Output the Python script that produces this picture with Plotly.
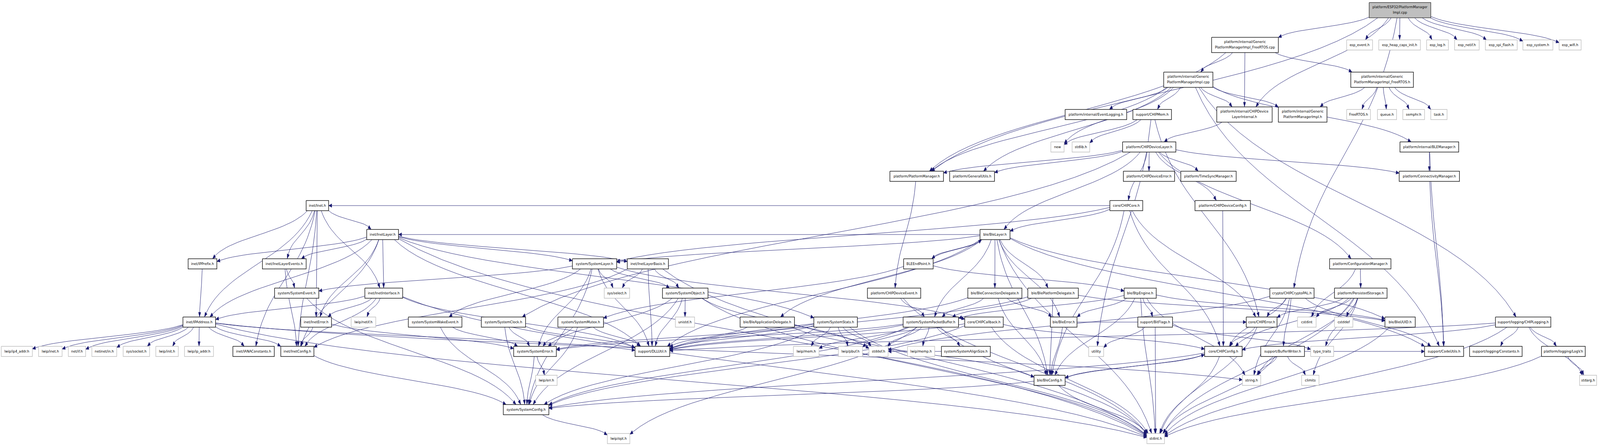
import plotly.graph_objects as go

# ---------------- graph data ----------------
ROOT = "platform/ESP32/PlatformManagerImpl.cpp"
GFC = "platform/internal/GenericPlatformManagerImpl_FreeRTOS.cpp"
GFH = "platform/internal/GenericPlatformManagerImpl_FreeRTOS.h"
GPC = "platform/internal/GenericPlatformManagerImpl.cpp"
GPH = "platform/internal/GenericPlatformManagerImpl.h"
DLI = "platform/internal/CHIPDeviceLayerInternal.h"

# doxygen wraps the long names onto two lines
wrapped = {
    ROOT: ["platform/ESP32/PlatformManager", "Impl.cpp"],
    GFC: ["platform/internal/Generic", "PlatformManagerImpl_FreeRTOS.cpp"],
    GFH: ["platform/internal/Generic", "PlatformManagerImpl_FreeRTOS.h"],
    GPC: ["platform/internal/Generic", "PlatformManagerImpl.cpp"],
    GPH: ["platform/internal/Generic", "PlatformManagerImpl.h"],
    DLI: ["platform/internal/CHIPDevice", "LayerInternal.h"],
}

# headers that are not part of the project (grey frame)
external = [
    "esp_event.h", "esp_heap_caps_init.h", "esp_log.h", "esp_netif.h", "esp_spi_flash.h",
    "esp_system.h", "esp_wifi.h", "FreeRTOS.h", "queue.h", "semphr.h", "task.h", "new",
    "stdlib.h", "lwip/ip4_addr.h", "lwip/inet.h", "net/if.h", "netinet/in.h", "sys/socket.h",
    "lwip/init.h", "lwip/ip_addr.h", "lwip/netif.h", "sys/select.h", "unistd.h", "lwip/mem.h",
    "lwip/pbuf.h", "stddef.h", "lwip/memp.h", "cstdint", "cstddef", "utility", "type_traits",
    "lwip/err.h", "string.h", "climits", "stdarg.h", "lwip/opt.h", "stdint.h",
]

includes = {
    ROOT: ["platform/PlatformManager.h", GFC, DLI, "crypto/CHIPCryptoPAL.h", "esp_event.h",
           "esp_heap_caps_init.h", "esp_log.h", "esp_netif.h", "esp_spi_flash.h", "esp_system.h",
           "esp_wifi.h"],
    GFC: [GPC, DLI, GFH, "platform/PlatformManager.h"],
    GFH: [GPH, "FreeRTOS.h", "queue.h", "semphr.h", "task.h"],
    GPC: ["platform/PlatformManager.h", "platform/GeneralUtils.h", "new",
          "platform/internal/EventLogging.h", "support/CHIPMem.h", DLI, GPH,
          "platform/internal/BLEManager.h", "support/CodeUtils.h", "support/logging/CHIPLogging.h"],
    DLI: ["platform/CHIPDeviceLayer.h"],
    "support/CHIPMem.h": ["new", "stdlib.h", "utility", "core/CHIPError.h"],
    "platform/CHIPDeviceLayer.h": ["core/CHIPCore.h", "platform/PlatformManager.h",
                                   "platform/GeneralUtils.h", "platform/CHIPDeviceError.h",
                                   "platform/TimeSyncManager.h", "platform/ConnectivityManager.h",
                                   "platform/CHIPDeviceConfig.h", "platform/ConfigurationManager.h",
                                   "ble/BleLayer.h", "system/SystemClock.h"],
    "platform/internal/BLEManager.h": ["platform/ConnectivityManager.h", "support/CodeUtils.h"],
    "platform/ConnectivityManager.h": ["support/CodeUtils.h"],
    "platform/PlatformManager.h": ["platform/CHIPDeviceEvent.h"],
    "platform/CHIPDeviceConfig.h": ["core/CHIPConfig.h"],
    "platform/ConfigurationManager.h": ["platform/PersistedStorage.h", "cstdint"],
    "core/CHIPCore.h": ["inet/Inet.h", "system/SystemLayer.h", "ble/BleLayer.h", "core/CHIPConfig.h",
                        "core/CHIPError.h", "ble/BleConfig.h"],
    "inet/Inet.h": ["inet/IPAddress.h", "inet/IPPrefix.h", "inet/IANAConstants.h",
                    "inet/InetLayerEvents.h", "inet/InetError.h", "inet/InetInterface.h",
                    "inet/InetLayer.h", "inet/InetConfig.h"],
    "inet/InetLayer.h": ["inet/IPPrefix.h", "inet/IPAddress.h", "inet/InetLayerEvents.h",
                         "inet/InetConfig.h", "inet/InetError.h", "inet/InetInterface.h",
                         "system/SystemLayer.h", "inet/InetLayerBasis.h", "system/SystemStats.h",
                         "support/DLLUtil.h", "stdint.h"],
    "inet/IPPrefix.h": ["inet/IPAddress.h"],
    "inet/IPAddress.h": ["lwip/ip4_addr.h", "lwip/inet.h", "net/if.h", "netinet/in.h",
                         "sys/socket.h", "lwip/init.h", "lwip/ip_addr.h", "inet/IANAConstants.h",
                         "inet/InetConfig.h", "support/DLLUtil.h", "string.h", "stdint.h"],
    "inet/InetLayerEvents.h": ["system/SystemEvent.h", "inet/InetConfig.h"],
    "system/SystemEvent.h": ["system/SystemConfig.h"],
    "inet/InetInterface.h": ["inet/IPAddress.h", "inet/InetError.h", "inet/InetConfig.h",
                             "lwip/netif.h", "support/DLLUtil.h", "stdint.h"],
    "inet/InetError.h": ["inet/InetConfig.h", "system/SystemError.h"],
    "inet/InetConfig.h": ["system/SystemConfig.h"],
    "system/SystemLayer.h": ["system/SystemEvent.h", "system/SystemWakeEvent.h",
                             "system/SystemConfig.h", "system/SystemError.h", "sys/select.h",
                             "system/SystemObject.h", "support/DLLUtil.h", "core/CHIPCallback.h"],
    "inet/InetLayerBasis.h": ["sys/select.h", "support/DLLUtil.h", "system/SystemObject.h",
                              "inet/InetConfig.h", "stdint.h"],
    "system/SystemObject.h": ["support/DLLUtil.h", "unistd.h", "system/SystemError.h",
                              "system/SystemConfig.h", "stddef.h", "stdint.h"],
    "system/SystemWakeEvent.h": ["system/SystemConfig.h", "system/SystemError.h"],
    "system/SystemClock.h": ["system/SystemError.h", "system/SystemConfig.h", "support/DLLUtil.h"],
    "system/SystemMutex.h": ["system/SystemError.h", "system/SystemConfig.h", "support/DLLUtil.h"],
    "system/SystemError.h": ["system/SystemConfig.h", "lwip/err.h"],
    "system/SystemConfig.h": ["lwip/opt.h"],
    "ble/BleApplicationDelegate.h": ["support/DLLUtil.h", "ble/BleConfig.h"],
    "system/SystemStats.h": ["lwip/mem.h", "lwip/pbuf.h", "system/SystemConfig.h",
                             "system/SystemError.h", "support/DLLUtil.h", "stddef.h", "stdint.h"],
    "system/SystemPacketBuffer.h": ["lwip/mem.h", "lwip/pbuf.h", "stddef.h", "lwip/memp.h",
                                    "system/SystemAlignSize.h", "system/SystemConfig.h",
                                    "system/SystemError.h", "support/DLLUtil.h", "lwip/opt.h",
                                    "stdint.h"],
    "platform/CHIPDeviceEvent.h": ["system/SystemPacketBuffer.h", "stdint.h"],
    "BLEEndPoint.h": ["ble/BleLayer.h", "system/SystemMutex.h", "ble/BtpEngine.h"],
    "ble/BleLayer.h": ["inet/InetLayer.h", "system/SystemLayer.h", "system/SystemPacketBuffer.h",
                       "support/DLLUtil.h", "BLEEndPoint.h", "ble/BleApplicationDelegate.h",
                       "ble/BleConnectionDelegate.h", "ble/BlePlatformDelegate.h", "ble/BleError.h",
                       "ble/BleUUID.h", "support/CodeUtils.h", "ble/BleConfig.h", "stdint.h"],
    "ble/BleConnectionDelegate.h": ["support/DLLUtil.h", "system/SystemPacketBuffer.h",
                                    "ble/BleConfig.h", "ble/BleError.h"],
    "ble/BlePlatformDelegate.h": ["support/DLLUtil.h", "system/SystemPacketBuffer.h",
                                  "ble/BleConfig.h", "ble/BleUUID.h"],
    "ble/BtpEngine.h": ["system/SystemPacketBuffer.h", "ble/BleError.h", "ble/BleConfig.h",
                        "support/BitFlags.h", "ble/BleUUID.h", "string.h", "stdint.h"],
    "crypto/CHIPCryptoPAL.h": ["core/CHIPError.h", "support/CodeUtils.h", "string.h",
                               "core/CHIPConfig.h", "support/BufferWriter.h", "stddef.h"],
    "platform/PersistedStorage.h": ["core/CHIPError.h", "cstdint", "cstddef", "core/CHIPConfig.h",
                                    "type_traits", "climits", "string.h", "stdint.h"],
    "core/CHIPCallback.h": ["stdint.h", "core/CHIPConfig.h", "support/DLLUtil.h",
                            "system/SystemConfig.h"],
    "ble/BleError.h": ["ble/BleConfig.h", "core/CHIPError.h"],
    "support/BitFlags.h": ["utility", "stdint.h", "type_traits"],
    "core/CHIPError.h": ["core/CHIPConfig.h", "stdint.h"],
    "ble/BleUUID.h": ["stdint.h"],
    "support/logging/CHIPLogging.h": ["core/CHIPConfig.h", "support/logging/Constants.h",
                                      "platform/logging/LogV.h", "stdarg.h", "stdint.h",
                                      "support/DLLUtil.h"],
    "platform/logging/LogV.h": ["stdarg.h", "stdint.h"],
    "core/CHIPConfig.h": ["ble/BleConfig.h", "system/SystemConfig.h", "stdint.h"],
    "ble/BleConfig.h": ["core/CHIPConfig.h", "stdint.h", "system/SystemConfig.h"],
    "support/BufferWriter.h": ["string.h", "climits", "stdint.h", "support/CodeUtils.h"],
    "system/SystemAlignSize.h": ["stddef.h"],
}

# ---------------- layout (dot ranks, boxes in picture pixels) ----------------
rank_y = [26, 115, 204, 293, 376, 451, 526, 600, 675, 750, 824, 899, 973, 1048, 1122]

boxes = {
    ROOT: (5291, 5529, 0),
    GFC: (4682, 4940, 1), "esp_event.h": (5204, 5304, 1), "esp_heap_caps_init.h": (5328, 5489, 1),
    "esp_log.h": (5513, 5597, 1), "esp_netif.h": (5621, 5716, 1), "esp_spi_flash.h": (5740, 5863, 1),
    "esp_system.h": (5885, 6001, 1), "esp_wifi.h": (6025, 6110, 1),
    GPC: (4497, 4687, 2), GFH: (5220, 5462, 2),
    "platform/internal/EventLogging.h": (4116, 4354, 3), "support/CHIPMem.h": (4378, 4527, 3),
    DLI: (4702, 4916, 3), GPH: (4940, 5128, 3), "FreeRTOS.h": (5204, 5296, 3),
    "queue.h": (5323, 5397, 3), "semphr.h": (5421, 5505, 3), "task.h": (5529, 5592, 3),
    "new": (4061, 4112, 4), "stdlib.h": (4143, 4211, 4), "platform/CHIPDeviceLayer.h": (4338, 4544, 4),
    "platform/internal/BLEManager.h": (5410, 5637, 4),
    "platform/PlatformManager.h": (3439, 3646, 5), "platform/GeneralUtils.h": (3670, 3843, 5),
    "platform/CHIPDeviceError.h": (4341, 4539, 5), "platform/TimeSyncManager.h": (4563, 4777, 5),
    "platform/ConnectivityManager.h": (5407, 5640, 5),
    "inet/Inet.h": (1183, 1270, 6), "core/CHIPCore.h": (4289, 4416, 6),
    "platform/CHIPDeviceConfig.h": (4618, 4832, 6),
    "inet/InetLayer.h": (1417, 1540, 7), "ble/BleLayer.h": (3787, 3903, 7),
    "inet/IPPrefix.h": (727, 838, 8), "inet/InetLayerEvents.h": (1014, 1183, 8),
    "system/SystemLayer.h": (2212, 2383, 8), "inet/InetLayerBasis.h": (2424, 2583, 8),
    "BLEEndPoint.h": (3492, 3606, 8), "platform/ConfigurationManager.h": (5138, 5375, 8),
    "system/SystemEvent.h": (1061, 1232, 9), "inet/InetInterface.h": (1410, 1556, 9),
    "sys/select.h": (2335, 2433, 9), "system/SystemObject.h": (2560, 2736, 9),
    "platform/CHIPDeviceEvent.h": (3352, 3558, 9), "ble/BleConnectionDelegate.h": (3740, 3949, 9),
    "ble/BlePlatformDelegate.h": (3972, 4167, 9), "ble/BtpEngine.h": (4344, 4468, 9),
    "crypto/CHIPCryptoPAL.h": (4907, 5078, 9), "platform/PersistedStorage.h": (5157, 5360, 9),
    "inet/IPAddress.h": (707, 833, 10), "inet/InetError.h": (1162, 1281, 10),
    "lwip/netif.h": (1357, 1452, 10), "system/SystemWakeEvent.h": (1578, 1785, 10),
    "system/SystemClock.h": (1860, 2031, 10), "system/SystemMutex.h": (2156, 2332, 10),
    "unistd.h": (2610, 2684, 10), "ble/BleApplicationDelegate.h": (2860, 3070, 10),
    "system/SystemStats.h": (3145, 3313, 10), "system/SystemPacketBuffer.h": (3490, 3704, 10),
    "core/CHIPCallback.h": (3728, 3877, 10), "ble/BleError.h": (4059, 4162, 10),
    "support/BitFlags.h": (4397, 4531, 10), "core/CHIPError.h": (4816, 4935, 10),
    "cstdint": (5014, 5086, 10), "cstddef": (5157, 5228, 10), "ble/BleUUID.h": (5352, 5469, 10),
    "support/logging/CHIPLogging.h": (5779, 5993, 10),
    "lwip/ip4_addr.h": (5, 125, 11), "lwip/inet.h": (149, 240, 11), "net/if.h": (264, 331, 11),
    "netinet/in.h": (355, 451, 11), "sys/socket.h": (476, 578, 11), "lwip/init.h": (602, 689, 11),
    "lwip/ip_addr.h": (713, 825, 11), "inet/IANAConstants.h": (900, 1060, 11),
    "inet/InetConfig.h": (1085, 1213, 11), "system/SystemError.h": (1985, 2150, 11),
    "support/DLLUtil.h": (2454, 2588, 11), "lwip/mem.h": (3066, 3165, 11),
    "lwip/pbuf.h": (3240, 3333, 11), "stddef.h": (3358, 3432, 11), "lwip/memp.h": (3507, 3612, 11),
    "system/SystemAlignSize.h": (3638, 3827, 11), "utility": (4207, 4265, 11),
    "core/CHIPConfig.h": (4655, 4800, 11), "support/BufferWriter.h": (4872, 5041, 11),
    "type_traits": (5065, 5154, 11), "support/CodeUtils.h": (5505, 5656, 11),
    "support/logging/Constants.h": (5679, 5882, 11), "platform/logging/LogV.h": (5957, 6126, 11),
    "lwip/err.h": (2070, 2153, 12), "ble/BleConfig.h": (3996, 4116, 12), "string.h": (4801, 4872, 12),
    "climits": (5030, 5097, 12), "stdarg.h": (6104, 6170, 12),
    "system/SystemConfig.h": (1945, 2121, 13),
    "lwip/opt.h": (2347, 2434, 14), "stdint.h": (4432, 4500, 14),
}

EDGE = "#191970"
GREY = "#bfbfbf"
PX = 1 / 1.5   # css px per picture px (page is shot at 1.5x)


def frame(name):
    x0, x1, r = boxes[name]
    h = 19.5 if name in wrapped else 13
    cy = rank_y[r]
    return x0, x1, cy - h, cy + h


def centre(name):
    x0, x1, y0, y1 = frame(name)
    return (x0 + x1) / 2, (y0 + y1) / 2


def border_point(name, tx, ty):
    x0, x1, y0, y1 = frame(name)
    cx, cy = (x0 + x1) / 2, (y0 + y1) / 2
    dx, dy = tx - cx, ty - cy
    sx = (x1 - x0) / 2 / abs(dx) if dx else 1e9
    sy = (y1 - y0) / 2 / abs(dy) if dy else 1e9
    s = min(sx, sy)
    return cx + dx * s, cy + dy * s


ex, ey, ax, ay = [], [], [], []
for src, dsts in includes.items():
    for dst in dsts:
        scx, scy = centre(src)
        tcx, tcy = centre(dst)
        p0 = border_point(src, tcx, tcy)
        p3 = border_point(dst, scx, scy)
        dx, dy = p3[0] - p0[0], p3[1] - p0[1]
        p1 = (p0[0] + 0.2 * dx, p0[1] + 0.45 * dy)
        p2 = (p3[0] - 0.2 * dx, p3[1] - 0.45 * dy)
        tx_, ty_ = p3[0] - p2[0], p3[1] - p2[1]
        ln = (tx_ ** 2 + ty_ ** 2) ** 0.5 or 1
        ux, uy = tx_ / ln, ty_ / ln
        L, W = 12, 4.5
        bx, by = p3[0] - L * ux, p3[1] - L * uy
        n = 24
        for i in range(n + 1):
            t = i / n
            a, b, c, d = (1 - t) ** 3, 3 * (1 - t) ** 2 * t, 3 * (1 - t) * t ** 2, t ** 3
            ex.append(a * p0[0] + b * p1[0] + c * p2[0] + d * bx)
            ey.append(a * p0[1] + b * p1[1] + c * p2[1] + d * by)
        ex.append(None)
        ey.append(None)
        ax += [p3[0], bx - W * uy, bx + W * uy, p3[0], None]
        ay += [p3[1], by + W * ux, by - W * ux, p3[1], None]

fig = go.Figure()
fig.add_trace(go.Scatter(x=ex, y=ey, mode="lines", line=dict(color=EDGE, width=1.4 * PX),
                         hoverinfo="skip"))
fig.add_trace(go.Scatter(x=ax, y=ay, mode="lines", fill="toself", fillcolor=EDGE,
                         line=dict(color=EDGE, width=1 * PX), hoverinfo="skip"))


def rect_trace(names, fill, edge, width):
    xs, ys = [], []
    for nm in names:
        x0, x1, y0, y1 = frame(nm)
        xs += [x0, x1, x1, x0, x0, None]
        ys += [y0, y0, y1, y1, y0, None]
    return go.Scatter(x=xs, y=ys, mode="lines", fill="toself", fillcolor=fill,
                      line=dict(color=edge, width=width), hoverinfo="skip")


inner = [n for n in boxes if n not in external and n != ROOT]
outer = [n for n in boxes if n in external]
fig.add_trace(rect_trace(outer, "white", GREY, 2 * PX))
fig.add_trace(rect_trace(inner, "white", "#1a1a1a", 2.2 * PX))
fig.add_trace(rect_trace([ROOT], GREY, "#404040", 2.2 * PX))

tx, ty, tt = [], [], []
for nm in boxes:
    cx, cy = centre(nm)
    lines = wrapped.get(nm, [nm])
    if len(lines) == 1:
        tx.append(cx); ty.append(cy + 0.5); tt.append(nm)
    else:
        for k, s in enumerate(lines):
            tx.append(cx); ty.append(cy - 7 + 14 * k); tt.append(s)
fig.add_trace(go.Scatter(x=tx, y=ty, text=tt, mode="text", hoverinfo="skip",
                         textfont=dict(family="DejaVu Sans, Verdana, sans-serif",
                                       size=12.7 * PX, color="#000000")))

fig.update_layout(
    autosize=True, margin=dict(l=0, r=0, t=0, b=0),
    paper_bgcolor="white", plot_bgcolor="white", showlegend=False,
    xaxis=dict(range=[0, 6183], visible=False, fixedrange=True),
    yaxis=dict(range=[1141, 0], visible=False, fixedrange=True),
)
fig.write_html(
    "out.html", config={"displayModeBar": False, "responsive": True},
    default_width="100vw", default_height="100vh",
    post_script="document.body.style.margin='0';document.body.style.overflow='hidden';"
                "Plotly.Plots.resize(document.getElementById('{plot_id}'));",
)
